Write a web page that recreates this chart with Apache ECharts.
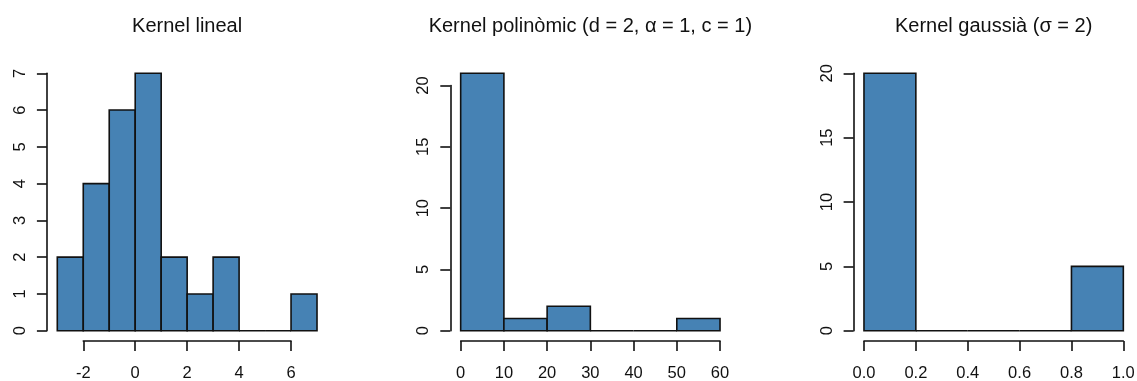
<!DOCTYPE html>
<html><head><meta charset="utf-8">
<script src="https://cdn.jsdelivr.net/npm/echarts@6/dist/echarts.min.js"></script>
<style>html,body{margin:0;padding:0;background:#fff}#c{width:1137px;height:381px}</style>
</head><body><div id="c"></div>
<script>
// ---- data ----
const titles = ['Kernel lineal', 'Kernel polinòmic (d = 2, α = 1, c = 1)', 'Kernel gaussià (σ = 2)'];
const linBreaks = [-3, -2, -1, 0, 1, 2, 3, 4, 5, 6, 7];
const linCounts = [2, 4, 6, 7, 2, 1, 2, 0, 0, 1];
const polyBreaks = [0, 10, 20, 30, 40, 50, 60];
const polyCounts = [21, 1, 2, 0, 0, 1];
const gaussBreaks = [0, 0.2, 0.4, 0.6, 0.8, 1.0];
const gaussCounts = [20, 0, 0, 0, 5];
const linXTicks = [-2, 0, 2, 4, 6];
const linYTicks = [0, 1, 2, 3, 4, 5, 6, 7];
const polyXTicks = [0, 10, 20, 30, 40, 50, 60];
const polyYTicks = [0, 5, 10, 15, 20];
const gaussXTicks = [0, 0.2, 0.4, 0.6, 0.8, 1.0];
const gaussYTicks = [0, 5, 10, 15, 20];

// ---- layout ----
const FONT = '"Liberation Sans", Arial, sans-serif';
const INK = '#111';
const LW = 1.6;
const plotTop = 63, plotBottom = 341;
const plotLR = [[46.9, 327.4], [450.3, 730.4], [853.6, 1133.7]];
const panels = [
  {breaks: linBreaks, counts: linCounts, xt: linXTicks, yt: linYTicks, dec: 0},
  {breaks: polyBreaks, counts: polyCounts, xt: polyXTicks, yt: polyYTicks, dec: 0},
  {breaks: gaussBreaks, counts: gaussCounts, xt: gaussXTicks, yt: gaussYTicks, dec: 1}
];

const option = {animation: false, backgroundColor: '#fff', title: [], grid: [], xAxis: [], yAxis: [], series: []};

panels.forEach((p, i) => {
  const [L, R] = plotLR[i];
  const W = R - L, H = plotBottom - plotTop;
  const b0 = p.breaks[0], b1 = p.breaks[p.breaks.length - 1];
  const ux0 = b0 - 0.04 * (b1 - b0), ux1 = b1 + 0.04 * (b1 - b0);
  const ymax = Math.max(...p.counts);
  const uy0 = -0.04 * ymax, uy1 = 1.04 * ymax;
  const px = v => L + (v - ux0) / (ux1 - ux0) * W;
  const py = v => plotTop + (uy1 - v) / (uy1 - uy0) * H;

  // bars grid
  option.grid.push({left: L, top: plotTop, width: W, height: H, containLabel: false, outerBoundsMode: 'none', show: false});
  const bg = option.grid.length - 1;
  option.xAxis.push({gridIndex: bg, type: 'value', min: ux0, max: ux1, show: false});
  option.yAxis.push({gridIndex: bg, type: 'value', min: uy0, max: uy1, show: false});
  const bAx = option.xAxis.length - 1;

  // axis grid
  const xt0 = p.xt[0], xt1 = p.xt[p.xt.length - 1];
  const yt0 = p.yt[0], yt1 = p.yt[p.yt.length - 1];
  const gl = px(xt0), gr = px(xt1), gt = py(yt1), gb = py(yt0);
  option.grid.push({left: gl, top: gt, width: gr - gl, height: gb - gt, containLabel: false, outerBoundsMode: 'none', show: false});
  const ag = option.grid.length - 1;
  const axisCommon = () => ({
    axisLine: {show: true, onZero: false, lineStyle: {color: INK, width: LW}},
    axisTick: {show: true, length: 10, inside: false, lineStyle: {color: INK, width: LW}},
    splitLine: {show: false}
  });
  option.xAxis.push(Object.assign({
    gridIndex: ag, type: 'value', position: 'bottom', min: xt0, max: xt1,
    interval: p.xt[1] - p.xt[0], offset: plotBottom - gb,
    axisLabel: {margin: 24, fontSize: 16.5, color: INK, fontFamily: FONT,
      formatter: v => Number(v).toFixed(p.dec)}
  }, axisCommon()));
  option.yAxis.push(Object.assign({
    gridIndex: ag, type: 'value', position: 'left', min: yt0, max: yt1,
    interval: p.yt[1] - p.yt[0], offset: gl - L,
    axisLabel: {margin: 18, rotate: 90, fontSize: 16.5, color: INK, fontFamily: FONT}
  }, axisCommon()));

  option.title.push({
    text: titles[i], left: (L + R) / 2, textAlign: 'center', top: 16, padding: 0,
    textStyle: {fontSize: 20, fontWeight: 'normal', color: INK, fontFamily: FONT}
  });

  option.series.push({
    type: 'custom', xAxisIndex: bAx, yAxisIndex: bAx, clip: false,
    data: p.counts.map((c, k) => [p.breaks[k], p.breaks[k + 1], c]),
    encode: {x: [0, 1], y: 2},
    renderItem: (params, api) => {
      const a = api.coord([api.value(0), 0]);
      const b = api.coord([api.value(1), api.value(2)]);
      return {
        type: 'rect',
        shape: {x: a[0], y: b[1], width: b[0] - a[0], height: a[1] - b[1]},
        style: {fill: '#4682B4', stroke: INK, lineWidth: LW}
      };
    }
  });
});

const chart = echarts.init(document.getElementById('c'), null, {renderer: 'canvas'});
chart.setOption(option);
</script>
</body></html>
